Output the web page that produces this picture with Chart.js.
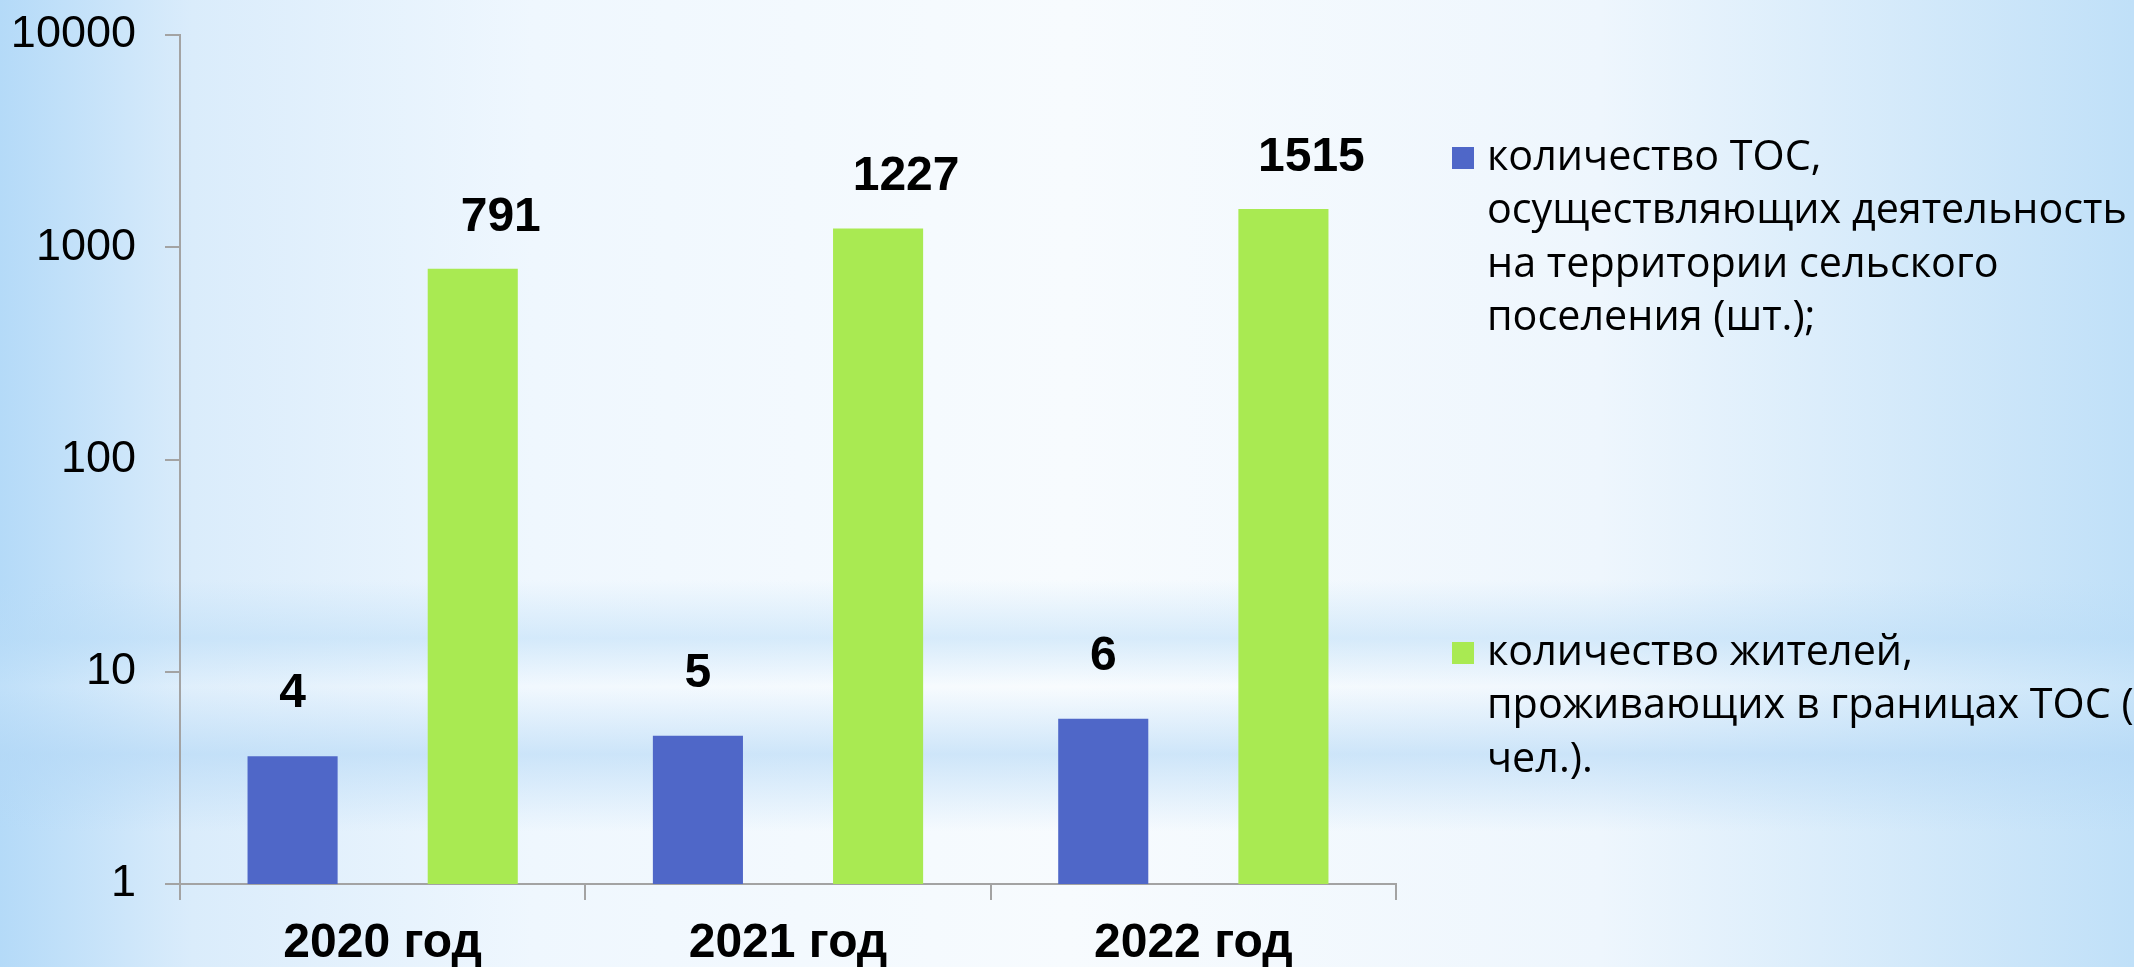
<!DOCTYPE html>
<html>
<head>
<meta charset="utf-8">
<script src="https://cdn.jsdelivr.net/npm/chart.js@4.4.1/dist/chart.umd.min.js"></script>
<style>
  html, body { margin: 0; padding: 0; width: 2134px; height: 967px; overflow: hidden; }
  body {
    background:
      linear-gradient(180deg, rgba(185,220,247,0) 0%, rgba(185,220,247,0) 60%, rgba(185,220,247,0.5) 66%, rgba(255,255,255,0.15) 71%, rgba(180,216,246,0.6) 78%, rgba(185,220,247,0) 86%),
      linear-gradient(90deg, #b4daf8 0%, #daecfb 9%, #eff7fe 25%, #f7fbfe 50%, #eef6fd 75%, #c0e0f8 100%);
  }
  canvas { display: block; }
</style>
</head>
<body>
<canvas id="chart" width="2134" height="967"></canvas>
<script>
const years = ["2020 год", "2021 год", "2022 год"];
const tosCount = [4, 5, 6];
const residents = [791, 1227, 1515];
const seriesNames = [
  "количество ТОС,\nосуществляющих деятельность\nна территории сельского\nпоселения (шт.);",
  "количество жителей,\nпроживающих в границах ТОС (\nчел.)."
];
const yTicks = [1, 10, 100, 1000, 10000];
const barColors = ["#4f67c8", "#a9ea52"];

// label nudges per series (pixels from bar top / centre)
const labelShift = [{ x: 0, y: 49 }, { x: 28, y: 38 }];

const valueLabels = {
  id: "valueLabels",
  afterDatasetsDraw(chart) {
    const ctx = chart.ctx;
    ctx.save();
    ctx.font = "bold 48px 'Liberation Sans'";
    ctx.fillStyle = "#000";
    ctx.textAlign = "center";
    ctx.textBaseline = "alphabetic";
    chart.data.datasets.forEach((ds, i) => {
      chart.getDatasetMeta(i).data.forEach((bar, j) => {
        ctx.fillText(String(ds.data[j]), bar.x + labelShift[i].x, bar.y - labelShift[i].y);
      });
    });
    ctx.restore();
  }
};

const sideLegend = {
  id: "sideLegend",
  afterDraw(chart) {
    const ctx = chart.ctx;
    const boxX = chart.chartArea.right + 56;
    const textX = boxX + 35;
    const firstBase = [170, 665];
    const lineH = 53.3;
    ctx.save();
    // fit font so the longest line is as wide as in the picture
    let size = 40;
    ctx.font = size + "px 'Open Sans'";
    size = size * 640 / ctx.measureText("осуществляющих деятельность").width;
    ctx.font = size + "px 'Open Sans'";
    ctx.textAlign = "left";
    ctx.textBaseline = "alphabetic";
    chart.data.datasets.forEach((ds, i) => {
      const lines = ds.label.split("\n");
      ctx.fillStyle = ds.backgroundColor;
      ctx.fillRect(boxX, firstBase[i] - 23, 22, 22);
      ctx.fillStyle = "#000";
      lines.forEach((ln, k) => ctx.fillText(ln, textX, firstBase[i] + k * lineH));
    });
    ctx.restore();
  }
};

const axisGrey = "#a3a3a3";

new Chart(document.getElementById("chart").getContext("2d"), {
  type: "bar",
  data: {
    labels: years,
    datasets: [
      { label: seriesNames[0], data: tosCount, backgroundColor: barColors[0] },
      { label: seriesNames[1], data: residents, backgroundColor: barColors[1] }
    ]
  },
  options: {
    responsive: false,
    animation: false,
    devicePixelRatio: 1,
    categoryPercentage: 0.889,
    barPercentage: 0.5,
    layout: { padding: { top: 35, right: 738, left: 0, bottom: 0 } },
    plugins: { legend: { display: false }, tooltip: { enabled: false } },
    scales: {
      x: {
        afterFit: s => { s.height = 83; s.paddingLeft = 0; s.paddingRight = 0; },
        ticks: { font: { family: "Liberation Sans", size: 48, weight: "bold" }, color: "#000", padding: 15, maxRotation: 0 },
        grid: { drawOnChartArea: false, tickLength: 16, color: axisGrey, lineWidth: 2, offset: true },
        border: { color: axisGrey, width: 2 }
      },
      y: {
        type: "logarithmic",
        min: 1,
        max: 10000,
        afterBuildTicks: s => { s.ticks = yTicks.map(v => ({ value: v })); },
        afterFit: s => { s.width = 180; s.paddingTop = 0; s.paddingBottom = 0; },
        ticks: { callback: v => String(v), font: { family: "Liberation Sans", size: 45 }, color: "#000", padding: 29 },
        grid: { drawOnChartArea: false, tickLength: 15, color: axisGrey, lineWidth: 2 },
        border: { color: axisGrey, width: 2 }
      }
    }
  },
  plugins: [valueLabels, sideLegend]
});
</script>
</body>
</html>
